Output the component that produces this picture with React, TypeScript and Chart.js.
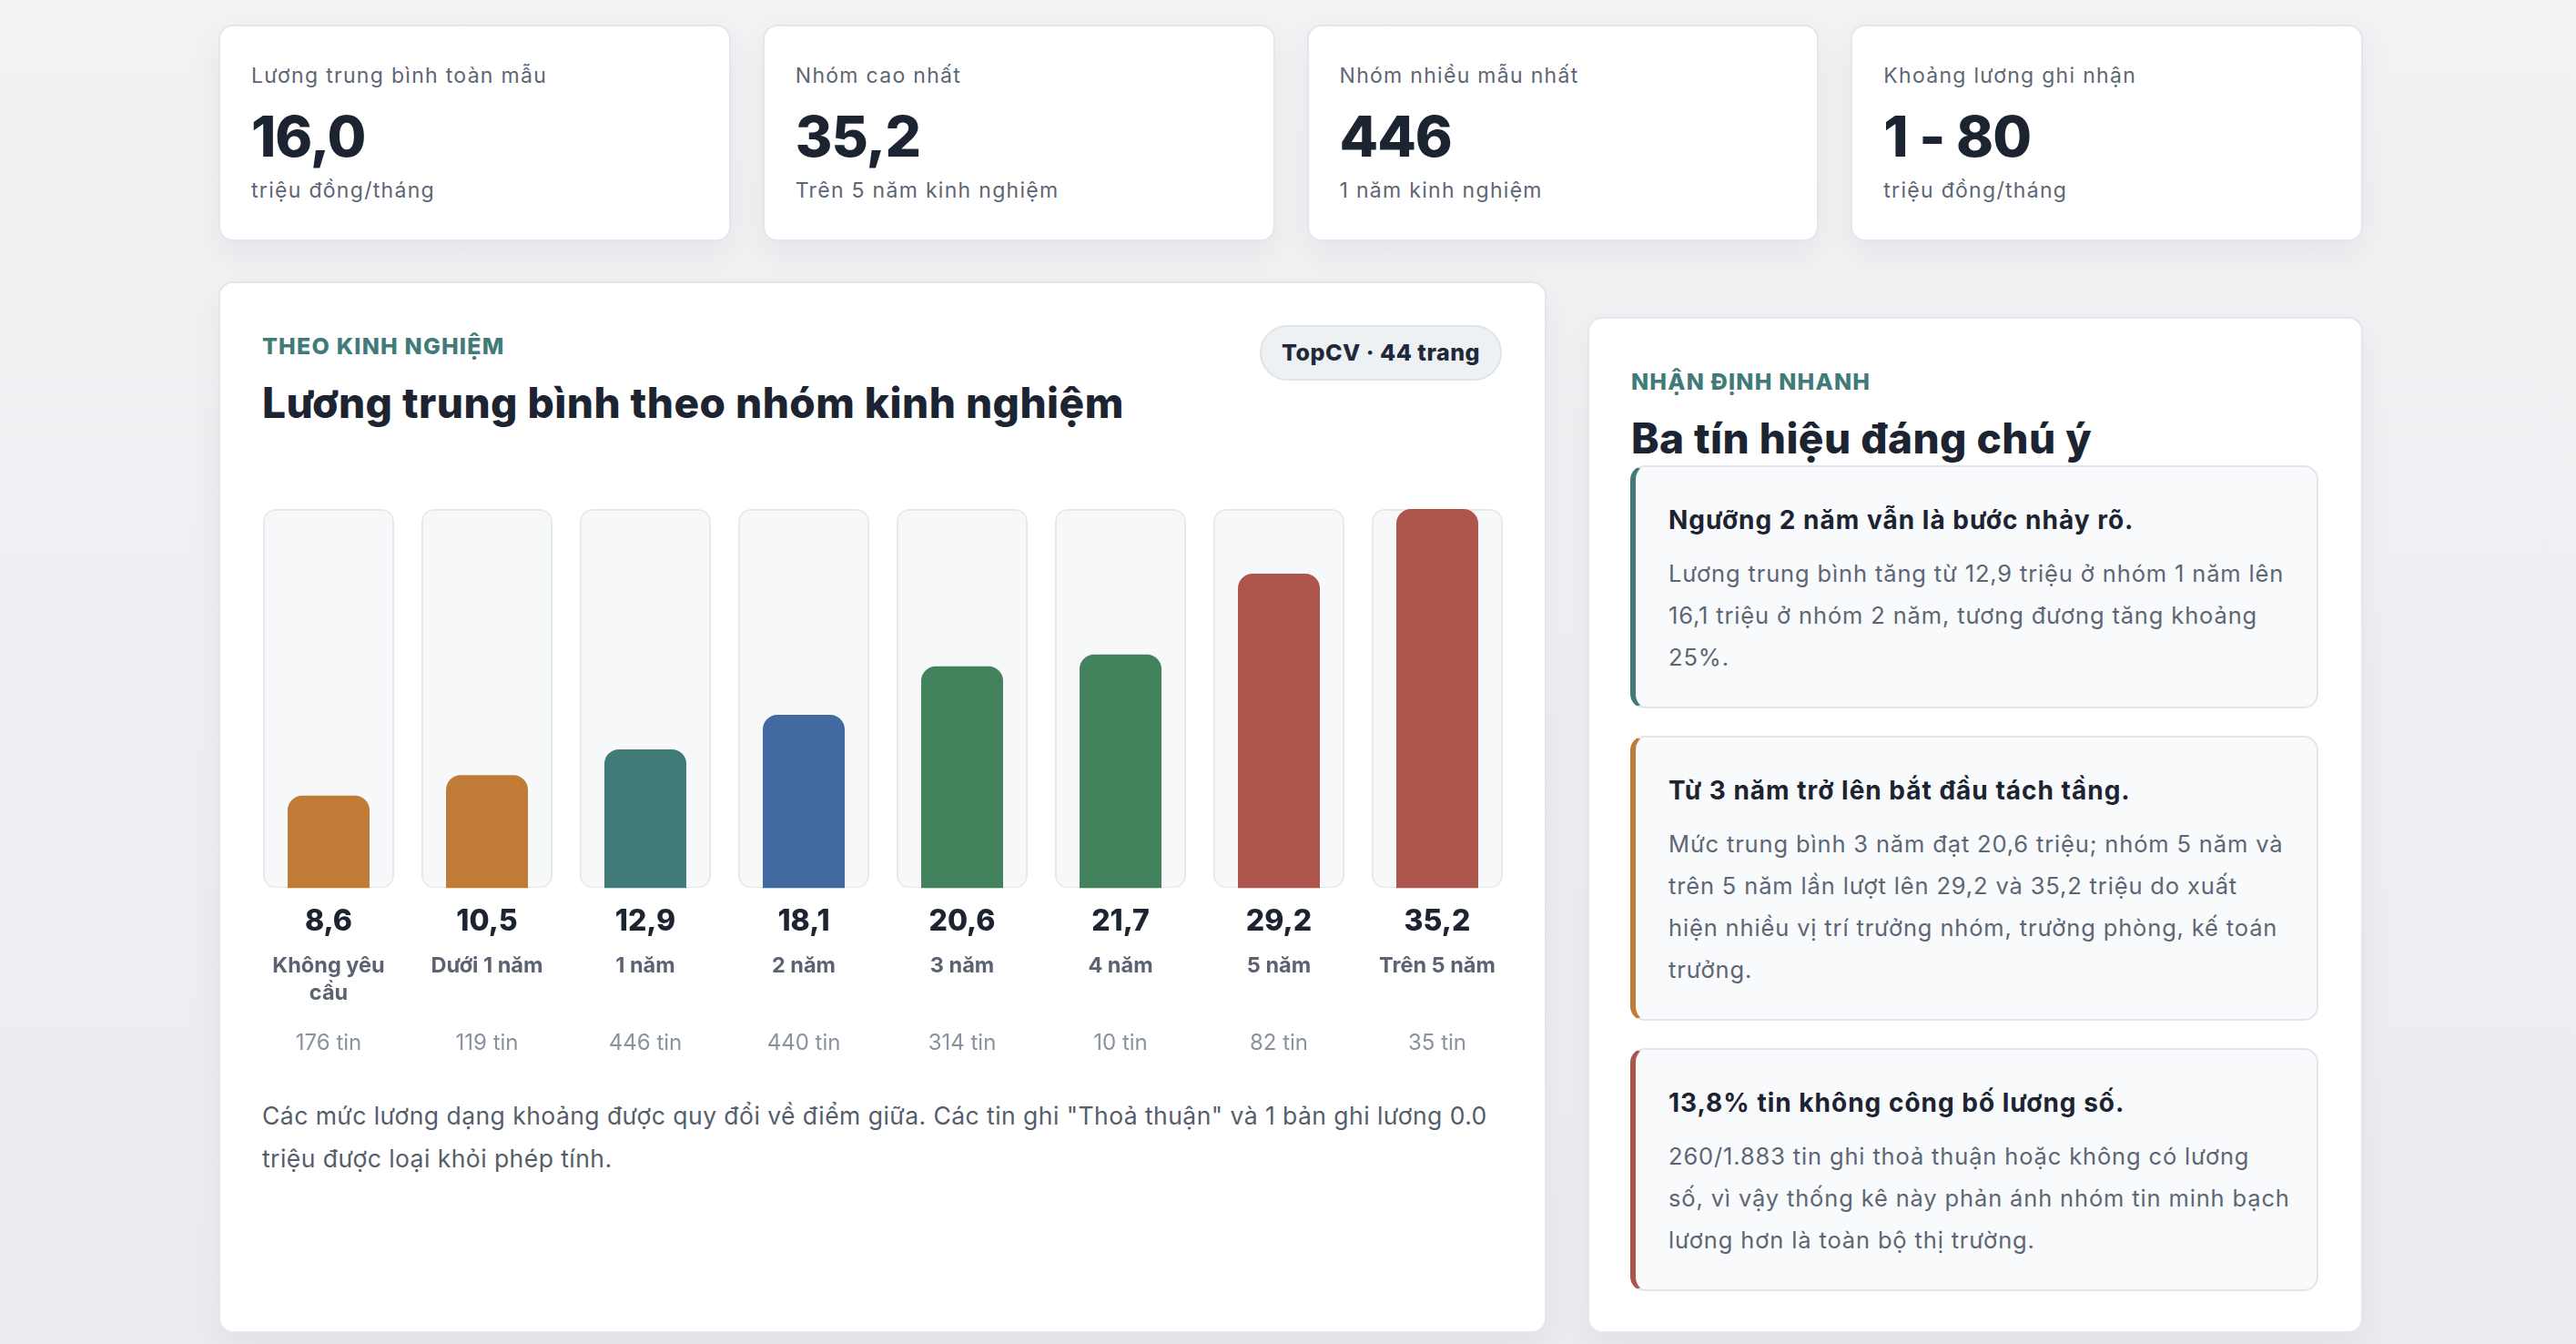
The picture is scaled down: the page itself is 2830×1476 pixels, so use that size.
import React, { useEffect, useRef } from 'react';
import { Chart, registerables } from 'chart.js';

Chart.register(...registerables);

// ---------- data ----------
const categories = ['Không yêu cầu', 'Dưới 1 năm', '1 năm', '2 năm', '3 năm', '4 năm', '5 năm', 'Trên 5 năm'];
// bar heights as drawn in the reference
const avgSalary = [8.6, 10.5, 12.9, 16.1, 20.6, 21.7, 29.2, 35.2];
// value labels as printed under the bars in the reference
const valueLabels = ['8,6', '10,5', '12,9', '18,1', '20,6', '21,7', '29,2', '35,2'];
const postingCounts = [176, 119, 446, 440, 314, 10, 82, 35];
const groupTone = ['amber', 'amber', 'teal', 'blue', 'green', 'green', 'red', 'red'];

const kpiLabels = ['Lương trung bình toàn mẫu', 'Nhóm cao nhất', 'Nhóm nhiều mẫu nhất', 'Khoảng lương ghi nhận'];
const kpiValues = ['16,0', '35,2', '446', '1 - 80'];
const kpiNotes = ['triệu đồng/tháng', 'Trên 5 năm kinh nghiệm', '1 năm kinh nghiệm', 'triệu đồng/tháng'];

const insightTitles = [
  'Ngưỡng 2 năm vẫn là bước nhảy rõ.',
  'Từ 3 năm trở lên bắt đầu tách tầng.',
  '13,8% tin không công bố lương số.',
];
// body text of each insight, line by line as set in the reference
const insightLines = [
  [
    'Lương trung bình tăng từ 12,9 triệu ở nhóm 1 năm lên',
    '16,1 triệu ở nhóm 2 năm, tương đương tăng khoảng',
    '25%.',
  ],
  [
    'Mức trung bình 3 năm đạt 20,6 triệu; nhóm 5 năm và',
    'trên 5 năm lần lượt lên 29,2 và 35,2 triệu do xuất',
    'hiện nhiều vị trí trưởng nhóm, trưởng phòng, kế toán',
    'trưởng.',
  ],
  [
    '260/1.883 tin ghi thoả thuận hoặc không có lương',
    'số, vì vậy thống kê này phản ánh nhóm tin minh bạch',
    'lương hơn là toàn bộ thị trường.',
  ],
];
const insightTones = ['teal', 'amber', 'red'];

const footnote =
  'Các mức lương dạng khoảng được quy đổi về điểm giữa. Các tin ghi "Thoả thuận" và 1 bản ghi lương 0.0 triệu được loại khỏi phép tính.';

// ---------- styles ----------
const TONES: Record<string, string> = {
  amber: '#c07c37',
  teal: '#407b7a',
  blue: '#426aa0',
  green: '#42825c',
  red: '#ad544b',
};
const FONT = 'Inter, "Noto Sans", sans-serif';
const INK = '#1c2331';
const MUTED = '#5d6674';

function wrapLabel(text: string, font: string, maxWidth: number): string[] {
  const ctx = document.createElement('canvas').getContext('2d')!;
  ctx.font = font;
  const words = text.split(' ');
  const lines: string[] = [];
  let cur = '';
  for (const w of words) {
    const test = cur ? cur + ' ' + w : w;
    if (cur && ctx.measureText(test).width > maxWidth) {
      lines.push(cur);
      cur = w;
    } else {
      cur = test;
    }
  }
  if (cur) lines.push(cur);
  return lines;
}

const cardStyle: React.CSSProperties = {
  position: 'absolute',
  boxSizing: 'border-box',
  background: '#ffffff',
  border: '2px solid #e3e6ea',
  borderRadius: 16,
  boxShadow: '0 14px 36px rgba(17, 24, 39, 0.05)',
};

const eyebrowStyle: React.CSSProperties = {
  position: 'absolute',
  left: 46,
  top: 54,
  fontSize: 25,
  lineHeight: '30px',
  fontWeight: 800,
  letterSpacing: 1.2,
  color: TONES.teal,
  whiteSpace: 'nowrap',
};

const titleStyle: React.CSSProperties = {
  position: 'absolute',
  left: 46,
  top: 103,
  margin: 0,
  fontSize: 46,
  lineHeight: '56px',
  fontWeight: 800,
  letterSpacing: 0.45,
  color: INK,
  whiteSpace: 'nowrap',
};

function SalaryChart() {
  const ref = useRef<HTMLCanvasElement>(null);
  useEffect(() => {
    if (!ref.current) return;
    const maxVal = Math.max(...avgSalary);
    const hiddenGrid = { display: false, drawTicks: false };
    const noBorder = { display: false };
    const chart = new Chart(ref.current, {
      type: 'bar',
      data: {
        labels: categories,
        datasets: [
          {
            label: 'Lương trung bình',
            data: avgSalary,
            backgroundColor: groupTone.map((t) => TONES[t]),
            borderWidth: 0,
            borderRadius: 16,
            borderSkipped: 'start',
            barPercentage: 0.517,
            categoryPercentage: 1,
            grouped: false,
            order: 1,
          },
          {
            label: 'track',
            data: categories.map(() => maxVal),
            backgroundColor: '#f7f8fa',
            borderColor: '#e6e9ec',
            borderWidth: 2,
            borderSkipped: false,
            borderRadius: 14,
            barPercentage: 0.828,
            categoryPercentage: 1,
            grouped: false,
            order: 2,
          },
        ],
      },
      options: {
        animation: false,
        responsive: false,
        maintainAspectRatio: false,
        layout: { padding: { top: 10, bottom: 0, left: 0, right: 0 } },
        plugins: { legend: { display: false }, tooltip: { enabled: false } },
        scales: {
          y: { display: false, min: 0, max: maxVal },
          x: {
            type: 'category',
            position: 'bottom',
            weight: 1,
            offset: true,
            grid: hiddenGrid,
            border: noBorder,
            ticks: {
              autoSkip: false,
              maxRotation: 0,
              padding: 18,
              color: INK,
              font: { family: FONT, size: 32, weight: '800', lineHeight: 1.2 },
              callback: (_v: any, i: number) => valueLabels[i],
            },
          },
          xCat: {
            type: 'category',
            position: 'bottom',
            weight: 2,
            offset: true,
            grid: hiddenGrid,
            border: noBorder,
            ticks: {
              autoSkip: false,
              maxRotation: 0,
              padding: -4,
              color: '#5b6372',
              font: { family: FONT, size: 23.5, weight: '700', lineHeight: '30px' },
              callback: (_v: any, i: number) => wrapLabel(categories[i], `700 23.5px ${FONT}`, 160),
            },
          },
          xCount: {
            type: 'category',
            position: 'bottom',
            weight: 3,
            offset: true,
            grid: hiddenGrid,
            border: noBorder,
            ticks: {
              autoSkip: false,
              maxRotation: 0,
              padding: 29,
              color: '#8a929e',
              font: { family: FONT, size: 24, weight: '400', lineHeight: '30px' },
              callback: (_v: any, i: number) => `${postingCounts[i]} tin`,
            },
          },
        },
      } as any,
    });
    return () => chart.destroy();
  }, []);
  return (
    <canvas
      ref={ref}
      width={1392}
      height={641}
      style={{ position: 'absolute', left: 32, top: 238, width: 1392, height: 641 }}
    />
  );
}

export default function App() {
  return (
    <div
      style={{
        position: 'relative',
        width: 2830,
        height: 1476,
        overflow: 'hidden',
        background: 'linear-gradient(180deg, #f1f2f4 0%, #eaecef 100%)',
        fontFamily: FONT,
      }}
    >
      <style>{`body{margin:0;background:#eceef1;}`}</style>

      {/* KPI cards */}
      <div
        style={{
          position: 'absolute',
          left: 240,
          top: 27,
          width: 2356,
          display: 'grid',
          gridTemplateColumns: 'repeat(4, 1fr)',
          columnGap: 35,
        }}
      >
        {kpiLabels.map((label, i) => (
          <div
            key={label}
            style={{ ...cardStyle, position: 'relative', height: 238, padding: '40px 34px 0 34px' }}
          >
            <div style={{ fontSize: 23, lineHeight: '28px', letterSpacing: 1.3, color: MUTED }}>{label}</div>
            <div
              style={{
                marginTop: 19,
                fontSize: 62,
                lineHeight: '68px',
                fontWeight: 800,
                letterSpacing: -1,
                color: INK,
              }}
            >
              {kpiValues[i]}
            </div>
            <div style={{ marginTop: 11, fontSize: 23, lineHeight: '28px', letterSpacing: 1.3, color: MUTED }}>
              {kpiNotes[i]}
            </div>
          </div>
        ))}
      </div>

      {/* Chart card */}
      <div style={{ ...cardStyle, left: 240, top: 309, width: 1459, height: 1155 }}>
        <div style={eyebrowStyle}>THEO KINH NGHIỆM</div>
        <h2 style={titleStyle}>Lương trung bình theo nhóm kinh nghiệm</h2>
        <div
          style={{
            position: 'absolute',
            right: 47,
            top: 46,
            height: 61,
            boxSizing: 'border-box',
            padding: '0 22px',
            border: '2px solid #dfe4e8',
            borderRadius: 31,
            background: '#eef1f3',
            fontSize: 25,
            lineHeight: '57px',
            fontWeight: 800,
            letterSpacing: 0.5,
            color: '#1e2a3a',
            whiteSpace: 'nowrap',
          }}
        >
          TopCV · 44 trang
        </div>
        <SalaryChart />
        <div
          style={{
            position: 'absolute',
            left: 46,
            top: 891,
            width: 1365,
            fontSize: 26.5,
            lineHeight: '47px',
            letterSpacing: 0.45,
            color: '#555d6b',
          }}
        >
          {footnote}
        </div>
      </div>

      {/* Insights card */}
      <div style={{ ...cardStyle, left: 1744, top: 348, width: 852, height: 1116 }}>
        <div style={eyebrowStyle}>NHẬN ĐỊNH NHANH</div>
        <h2 style={titleStyle}>Ba tín hiệu đáng chú ý</h2>
        <div style={{ position: 'absolute', left: 45, top: 161, width: 756 }}>
          {insightTitles.map((t, i) => (
            <div
              key={t}
              style={{
                boxSizing: 'border-box',
                marginBottom: 30,
                background: '#f8fafc',
                border: '2px solid #e2e6ea',
                borderLeft: `6px solid ${TONES[insightTones[i]]}`,
                borderRadius: 16,
                padding: '40px 29px 31px 36px',
              }}
            >
              <div style={{ fontSize: 28, lineHeight: '36px', fontWeight: 700, letterSpacing: 1, color: INK }}>
                {t}
              </div>
              <div style={{ marginTop: 18, fontSize: 25.5, lineHeight: '46px', letterSpacing: 0.85, color: MUTED }}>
                {insightLines[i].map((line) => (
                  <div key={line} style={{ whiteSpace: 'nowrap' }}>
                    {line}
                  </div>
                ))}
              </div>
            </div>
          ))}
        </div>
      </div>
    </div>
  );
}
